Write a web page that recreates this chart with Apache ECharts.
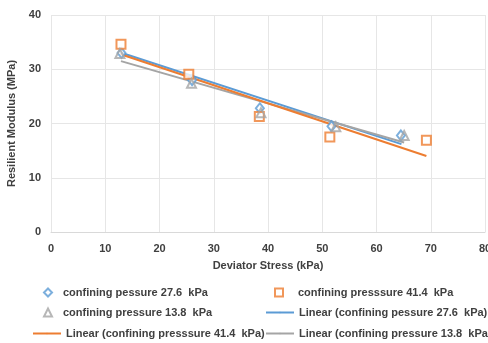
<!DOCTYPE html>
<html>
<head>
<meta charset="utf-8">
<script src="https://cdn.jsdelivr.net/npm/echarts@6/dist/echarts.min.js"></script>
<style>
  html, body { margin: 0; padding: 0; background: #fff; }
  #chart { width: 488px; height: 343px; }
</style>
</head>
<body>
<div id="chart"></div>
<script>
  // measured points (deviator stress kPa, resilient modulus MPa)
  var cp276 = [[13.0, 33.0], [26.0, 28.0], [38.5, 22.8], [51.7, 19.5], [64.5, 17.8]]
  var cp414 = [[12.9, 34.6], [25.4, 29.1], [38.4, 21.3], [51.4, 17.5], [69.2, 16.9]]
  var cp138 = [[12.7, 32.9], [25.9, 27.4], [38.7, 22.0], [52.5, 19.4], [65.1, 17.8]]
  // trendline end points
  var fit276 = [[12.8, 33.1], [64.6, 16.2]]
  var fit414 = [[12.7, 32.8], [69.2, 14.0]]
  var fit138 = [[12.9, 31.5], [65.1, 16.5]]
  var xTicks = [0, 10, 20, 30, 40, 50, 60, 70, 80]
  var yTicks = [0, 10, 20, 30, 40]

  var names = [
    'confining pessure 27.6  kPa',
    'confining presssure 41.4  kPa',
    'confining pressure 13.8  kPa',
    'Linear (confining pessure 27.6  kPa)',
    'Linear (confining presssure 41.4  kPa)',
    'Linear (confining pressure 13.8  kPa)'
  ]
  var blue = '#5B9BD5'
  var orange = '#ED7D31'
  var gray = '#A5A5A5'
  var txt = '#404040'
  var font = 'Liberation Sans'

  function leg(name, left, top, w, h, pad) {
    return {
      data: [name],
      left: left,
      top: top,
      padding: 0,
      itemWidth: w,
      itemHeight: h,
      selectedMode: false,
      textStyle: {
        color: txt, fontSize: 11, fontWeight: 'bold', fontFamily: font,
        padding: [0, 0, 0, pad]
      }
    }
  }

  var chart = echarts.init(document.getElementById('chart'))
  chart.setOption({
    animation: false,
    grid: { left: 51, right: 3, top: 15, bottom: 111, outerBoundsMode: 'none' },
    legend: [
      leg(names[0], 43, 287, 8, 8, 6),
      leg(names[1], 274, 287, 8, 8, 10),
      leg(names[2], 43, 307, 8, 8, 6),
      leg(names[3], 265, 307, 28, 2, 0),
      leg(names[4], 32, 328, 28, 2, 0),
      leg(names[5], 265, 328, 28, 2, 0)
    ],
    xAxis: {
      type: 'value',
      min: xTicks[0],
      max: xTicks[xTicks.length - 1],
      interval: 10,
      name: 'Deviator Stress (kPa)',
      nameLocation: 'middle',
      nameGap: 28,
      nameTextStyle: { color: txt, fontSize: 11, fontWeight: 'bold', fontFamily: font },
      axisLine: { show: true, lineStyle: { color: '#D9D9D9' } },
      axisTick: { show: false },
      axisLabel: { color: txt, fontSize: 11, fontWeight: 'bold', fontFamily: font, margin: 11 },
      splitLine: { show: true, lineStyle: { color: '#E6E6E6' } }
    },
    yAxis: {
      type: 'value',
      min: yTicks[0],
      max: yTicks[yTicks.length - 1],
      interval: 10,
      name: 'Resilient Modulus (MPa)',
      nameLocation: 'middle',
      nameGap: 29,
      nameTextStyle: { color: txt, fontSize: 11, fontWeight: 'bold', fontFamily: font },
      axisLine: { show: false },
      axisTick: { show: false },
      axisLabel: { color: txt, fontSize: 11, fontWeight: 'bold', fontFamily: font, margin: 10 },
      splitLine: { show: true, lineStyle: { color: '#E6E6E6' } }
    },
    series: [
      {
        name: names[4], type: 'line', data: fit414, symbol: 'none', z: 3,
        lineStyle: { color: orange, width: 2 }, itemStyle: { color: orange }
      },
      {
        name: names[3], type: 'line', data: fit276, symbol: 'none', z: 2,
        lineStyle: { color: blue, width: 2 }, itemStyle: { color: blue }
      },
      {
        name: names[5], type: 'line', data: fit138, symbol: 'none', z: 2,
        lineStyle: { color: gray, width: 2 }, itemStyle: { color: gray }
      },
      {
        name: names[0], type: 'scatter', data: cp276, symbol: 'diamond', symbolSize: [8, 10], z: 4,
        itemStyle: { color: '#fff', borderColor: blue, borderWidth: 2 }
      },
      {
        name: names[1], type: 'scatter', data: cp414, symbol: 'rect', symbolSize: 9, z: 5,
        itemStyle: { color: '#fff', borderColor: orange, borderWidth: 2 }
      },
      {
        name: names[2], type: 'scatter', data: cp138, symbol: 'triangle', symbolSize: 9, z: 6,
        itemStyle: { color: 'rgba(255,255,255,0)', borderColor: gray, borderWidth: 2 }
      }
    ]
  })
</script>
</body>
</html>
